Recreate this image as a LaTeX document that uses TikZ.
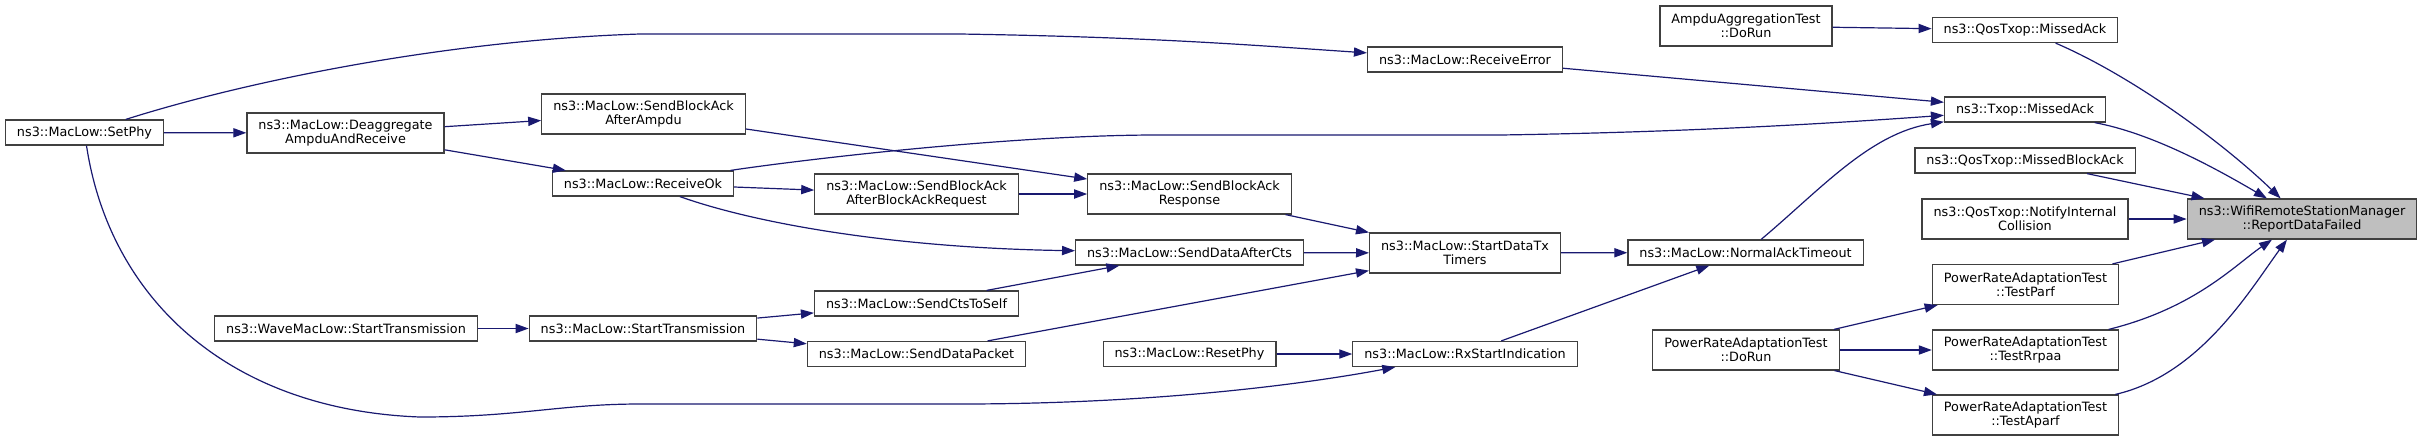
\documentclass[tikz,border=0pt]{standalone}
\usepackage{fontspec}
\setmainfont{DejaVu Sans}
\usetikzlibrary{arrows.meta}

\definecolor{edgeblue}{RGB}{25,25,112}
\definecolor{boxline}{RGB}{64,64,64}

\begin{document}
\begin{tikzpicture}[
  x=0.5pt, y=-0.5pt,
  font=\fontsize{6.4}{7.15}\selectfont,
  fn/.style={draw=boxline, line width=0.6pt, fill=white, inner xsep=5.75pt, inner ysep=0.5pt, minimum height=12.5pt, align=center},
  fn2/.style={fn, minimum height=20pt},
  hl/.style={fn2, fill=gray!50},
  call/.style={-{Triangle[length=6.5pt,width=4.6pt]}, line width=0.6pt, draw=edgeblue}
]
\useasboundingbox (0,0) rectangle (2424,441);

% --- MacLow side ---
\node[fn]  (setphy)      at (84.5,132.5)  {ns3::MacLow::SetPhy};
\node[fn2] (deagg)       at (345.5,133)   {ns3::MacLow::Deaggregate\\AmpduAndReceive};
\node[fn]  (wavetx)      at (346,328.5)   {ns3::WaveMacLow::StartTransmission};
\node[fn2] (blkampdu)    at (643.5,114)   {ns3::MacLow::SendBlockAck\\AfterAmpdu};
\node[fn]  (recvok)      at (643,183.5)   {ns3::MacLow::ReceiveOk};
\node[fn]  (macstarttx)  at (643,328.5)   {ns3::MacLow::StartTransmission};
\node[fn2] (blkbar)      at (916.5,194)   {ns3::MacLow::SendBlockAck\\AfterBlockAckRequest};
\node[fn]  (ctsself)     at (916.5,303.5) {ns3::MacLow::SendCtsToSelf};
\node[fn]  (datapkt)     at (916.5,354)   {ns3::MacLow::SendDataPacket};
\node[fn2] (blkresp)     at (1189.5,194)  {ns3::MacLow::SendBlockAck\\Response};
\node[fn]  (dataafter)   at (1189.5,252.5){ns3::MacLow::SendDataAfterCts};
\node[fn]  (resetphy)    at (1189.5,354)  {ns3::MacLow::ResetPhy};
\node[fn]  (recverr)     at (1465,59.5)   {ns3::MacLow::ReceiveError};
\node[fn2] (starttimers) at (1465,253)    {ns3::MacLow::StartDataTx\\Timers};
\node[fn]  (rxstart)     at (1465,354)    {ns3::MacLow::RxStartIndication};
\node[fn]  (normalack)   at (1745.5,252.5){ns3::MacLow::NormalAckTimeout};

% --- tests and txop callers ---
\node[fn2] (ampdurun)    at (1746,26)     {AmpduAggregationTest\\::DoRun};
\node[fn2] (prarun)      at (1746,350)    {PowerRateAdaptationTest\\::DoRun};
\node[fn]  (qosmissed)   at (2025,30)     {ns3::QosTxop::MissedAck};
\node[fn]  (txopmissed)  at (2025,109.5)  {ns3::Txop::MissedAck};
\node[fn]  (qosblock)    at (2025,160.5)  {ns3::QosTxop::MissedBlockAck};
\node[fn2] (qosnotify)   at (2025,219)    {ns3::QosTxop::NotifyInternal\\Collision};
\node[fn2] (testparf)    at (2025.5,284.5){PowerRateAdaptationTest\\::TestParf};
\node[fn2] (testrrpaa)   at (2025.5,350)  {PowerRateAdaptationTest\\::TestRrpaa};
\node[fn2] (testaparf)   at (2025.5,415)  {PowerRateAdaptationTest\\::TestAparf};

% --- the function itself ---
\node[hl]  (reportfail)  at (2302,219)    {ns3::WifiRemoteStationManager\\::ReportDataFailed};

% --- straight calls ---
\draw[call] (setphy) -- (deagg);
\draw[call] (deagg) -- (blkampdu);
\draw[call] (deagg) -- (recvok);
\draw[call] (wavetx) -- (macstarttx);
\draw[call] (recvok) -- (blkbar);
\draw[call] (macstarttx) -- (ctsself);
\draw[call] (macstarttx) -- (datapkt);
\draw[call] (blkampdu) -- (blkresp);
\draw[call] (blkbar) -- (blkresp);
\draw[call] (ctsself) -- (dataafter);
\draw[call] (datapkt) -- (starttimers);
\draw[call] (blkresp) -- (starttimers);
\draw[call] (dataafter) -- (starttimers);
\draw[call] (resetphy) -- (rxstart);
\draw[call] (starttimers) -- (normalack);
\draw[call] (rxstart) -- (normalack);
\draw[call] (recverr) -- (txopmissed);
\draw[call] (ampdurun) -- (qosmissed);
\draw[call] (prarun) -- (testparf);
\draw[call] (prarun) -- (testrrpaa);
\draw[call] (prarun) -- (testaparf);
\draw[call] (qosblock) -- (reportfail);
\draw[call] (qosnotify) -- (reportfail);
\draw[call] (testparf) -- (reportfail);

% --- curved calls ---
\draw[call] (setphy) .. controls (250,80) and (450,40) .. (640,34) -- (960,34)
  .. controls (1150,37) and (1250,45) .. (recverr);
\draw[call] (setphy) .. controls (110,300) and (230,410) .. (420,417)
  .. controls (520,417) and (560,404) .. (640,404) -- (960,404)
  .. controls (1150,404) and (1300,385) .. (rxstart);
\draw[call] (recvok) .. controls (800,160) and (1000,136) .. (1150,135) -- (1500,135)
  .. controls (1700,132) and (1850,122) .. (txopmissed);
\draw[call] (recvok) .. controls (760,225) and (900,248) .. (dataafter);
\draw[call] (normalack) .. controls (1820,190) and (1870,133) .. (txopmissed);
\draw[call] (qosmissed) .. controls (2130,75) and (2220,140) .. (reportfail);
\draw[call] (txopmissed) .. controls (2150,133) and (2210,165) .. (reportfail);
\draw[call] (testrrpaa) .. controls (2195,308) and (2235,265) .. (reportfail);
\draw[call] (testaparf) .. controls (2200,375) and (2250,290) .. (reportfail);
\end{tikzpicture}
\end{document}
